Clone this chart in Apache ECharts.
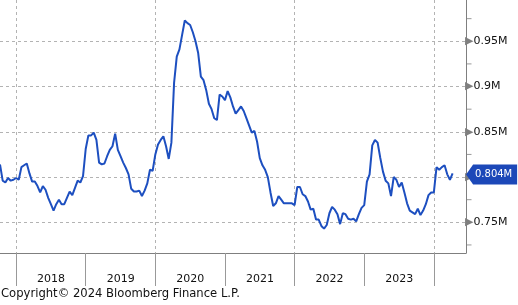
<!DOCTYPE html>
<html>
<head>
<meta charset="utf-8">
<script src="https://cdn.jsdelivr.net/npm/echarts@6/dist/echarts.min.js"></script>
<style>
  html, body { margin: 0; padding: 0; background: #fff; }
  #main { width: 518px; height: 305px; }
</style>
</head>
<body>
<div id="main"></div>
<script>
// fortnightly readings, millions
var startDate = "2017-10-15";
var stepDays = 14;
var values = [
  0.814, 0.796, 0.794, 0.799, 0.796, 0.797, 0.799, 0.797, 0.811, 0.813,
  0.815, 0.804, 0.795, 0.795, 0.790, 0.783, 0.790, 0.786, 0.777, 0.770,
  0.763, 0.770, 0.775, 0.770, 0.770, 0.777, 0.784, 0.780, 0.788, 0.796,
  0.794, 0.801, 0.831, 0.846, 0.846, 0.849, 0.841, 0.816, 0.814, 0.815,
  0.823, 0.830, 0.834, 0.848, 0.830, 0.823, 0.816, 0.810, 0.803, 0.787,
  0.784, 0.784, 0.785, 0.779, 0.785, 0.793, 0.808, 0.807, 0.825, 0.836,
  0.841, 0.845, 0.834, 0.820, 0.838, 0.904, 0.933, 0.941, 0.957, 0.973,
  0.970, 0.968, 0.960, 0.950, 0.937, 0.911, 0.907, 0.896, 0.881, 0.875,
  0.865, 0.863, 0.891, 0.889, 0.885, 0.895, 0.888, 0.878, 0.870, 0.874,
  0.878, 0.873, 0.865, 0.857, 0.849, 0.851, 0.839, 0.821, 0.813, 0.808,
  0.800, 0.783, 0.768, 0.771, 0.779, 0.775, 0.771, 0.771, 0.771, 0.771,
  0.769, 0.789, 0.789, 0.781, 0.779, 0.773, 0.764, 0.765, 0.753, 0.753,
  0.746, 0.743, 0.747, 0.760, 0.767, 0.764, 0.759, 0.748, 0.760, 0.759,
  0.754, 0.753, 0.754, 0.751, 0.759, 0.766, 0.769, 0.795, 0.803, 0.835,
  0.841, 0.838, 0.821, 0.806, 0.796, 0.793, 0.779, 0.800, 0.797, 0.789,
  0.794, 0.783, 0.771, 0.763, 0.761, 0.759, 0.765, 0.758, 0.763, 0.770,
  0.780, 0.783, 0.783, 0.811, 0.808, 0.811, 0.813, 0.803, 0.797, 0.804
];
var totalSlots = 175; // axis runs a little past the last reading
var yMin = 0.7161;
var yMax = 0.9956;
var minorTicks = [0.725, 0.775, 0.825, 0.875, 0.925, 0.975];
var gridYears = [2018, 2020, 2022, 2024];
var copyright = "Copyright\u00a9 2024 Bloomberg Finance L.P.";

var dates = [];
var d0 = new Date(startDate + "T00:00:00Z");
for (var i = 0; i < totalSlots; i++) {
  var d = new Date(d0.getTime() + i * stepDays * 86400000);
  dates.push(d.toISOString().slice(0, 10));
}

// year whose Jan 1 falls closest to this slot, or null
function yearAt(idx) {
  var t = new Date(dates[idx] + "T00:00:00Z");
  var y = t.getUTCFullYear();
  var cands = [y, y + 1];
  for (var j = 0; j < cands.length; j++) {
    var jan = Date.UTC(cands[j], 0, 1);
    var diff = (t.getTime() - jan) / 86400000;
    if (diff >= -7 && diff < 7) return cands[j];
  }
  return null;
}

var font = "DejaVu Sans";
var gray = "#7f7f7f";
var last = values.length - 1;

var myChart = echarts.init(document.getElementById("main"));

var option = {
  animation: false,
  backgroundColor: "#fff",
  title: {
    text: copyright,
    left: 1,
    top: 288,
    padding: 0,
    textStyle: { fontFamily: font, fontSize: 11.6, fontWeight: "normal", color: "#111" }
  },
  grid: { left: 0, right: 52, top: 0, bottom: 52 },
  xAxis: {
    type: "category",
    data: dates,
    boundaryGap: false,
    axisLine: { show: true, lineStyle: { color: gray, width: 1 } },
    axisTick: {
      show: true,
      length: 33,
      interval: function (idx) { return yearAt(idx) !== null; },
      lineStyle: { color: "#999", width: 1 }
    },
    axisLabel: {
      interval: function (idx) { return yearAt(idx) !== null; },
      hideOverlap: false,
      margin: 21,
      formatter: function (v, idx) {
        var y = yearAt(idx);
        if (y === null || y === 2024) return "";
        return "{y|" + y + "}";
      },
      rich: {
        y: { fontFamily: font, fontSize: 11, color: "#111", padding: [0, 0, 0, 70] }
      }
    },
    splitLine: {
      show: true,
      interval: function (idx) { return gridYears.indexOf(yearAt(idx)) >= 0; },
      lineStyle: { color: "#b3b3b3", type: [3, 3], width: 1 }
    }
  },
  yAxis: {
    type: "value",
    position: "right",
    min: yMin,
    max: yMax,
    splitNumber: 5,
    axisLine: { show: true, lineStyle: { color: gray, width: 1 } },
    axisTick: { show: false },
    splitLine: {
      show: true,
      showMinLine: false,
      showMaxLine: false,
      lineStyle: { color: "#b3b3b3", type: [3, 3], width: 1 }
    },
    axisLabel: {
      margin: -1,
      showMinLabel: false,
      showMaxLabel: false,
      formatter: function (v) {
        return "{t|\u25B6}{v|" + parseFloat(v.toFixed(3)) + "M}";
      },
      rich: {
        t: { fontFamily: font, fontSize: 11, color: gray },
        v: { fontFamily: font, fontSize: 11, color: "#111" }
      }
    }
  },
  series: [
    {
      type: "line",
      data: values,
      showSymbol: false,
      lineStyle: { color: "#1d4fc0", width: 2 },
      itemStyle: { color: "#1d4fc0" },
      markPoint: {
        silent: true,
        symbol: "path://M0,10L7,0L51,0L51,20L7,20Z",
        symbolSize: [51, 20],
        symbolKeepAspect: false,
        symbolOffset: [39, 1],
        itemStyle: { color: "#1c48b8" },
        label: {
          show: true,
          color: "#fff",
          fontFamily: font,
          fontSize: 10,
          offset: [2, 0],
          formatter: values[last].toFixed(3) + "M"
        },
        data: [{ coord: [dates[last], values[last]] }]
      }
    },
    {
      // short marks on the value axis between the labelled values
      type: "scatter",
      silent: true,
      clip: false,
      symbol: "rect",
      symbolSize: [5, 1],
      symbolOffset: [3, 0],
      itemStyle: { color: gray },
      data: minorTicks.map(function (v) { return [dates[totalSlots - 1], v]; })
    }
  ]
};

myChart.setOption(option);
</script>
</body>
</html>
